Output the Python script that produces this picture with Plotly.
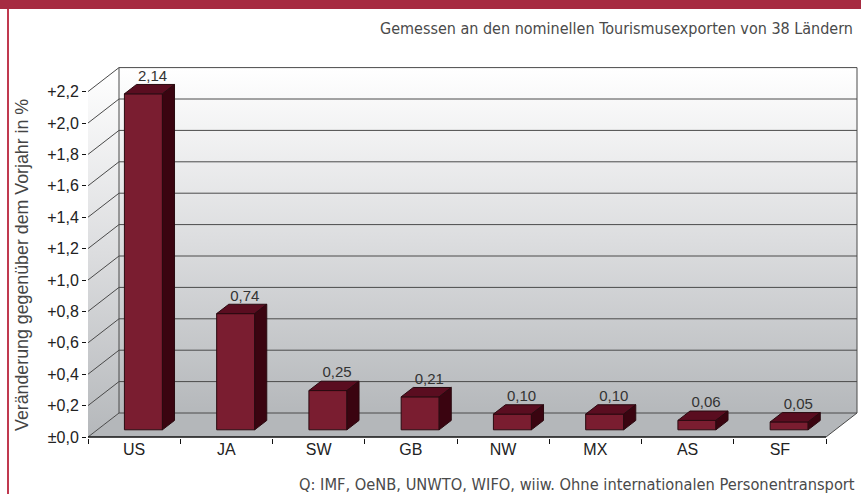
import plotly.graph_objects as go

# ---------------- data ----------------
categories = ["US", "JA", "SW", "GB", "NW", "MX", "AS", "SF"]
values = [2.14, 0.74, 0.25, 0.21, 0.10, 0.10, 0.06, 0.05]
value_labels = ["2,14", "0,74", "0,25", "0,21", "0,10", "0,10", "0,06", "0,05"]
y_ticks = [0.0, 0.2, 0.4, 0.6, 0.8, 1.0, 1.2, 1.4, 1.6, 1.8, 2.0, 2.2]
y_tick_labels = ["±0,0", "+0,2", "+0,4", "+0,6", "+0,8", "+1,0", "+1,2",
                 "+1,4", "+1,6", "+1,8", "+2,0", "+2,2"]
subtitle = "Gemessen an den nominellen Tourismusexporten von 38 Ländern"
source = "Q: IMF, OeNB, UNWTO, WIFO, wiiw. Ohne internationalen Personentransport"
y_title = "Veränderung gegenüber dem Vorjahr in %"

# ---------------- geometry ----------------
W, H = 861, 494
L, R, T, B = 87, 1, 64, 56
PW, PH = W - L - R, H - T - B
CAT_PX, VAL_PX = 92.25, 157.0
x_min = -0.5 - 1 / CAT_PX
x_max = x_min + PW / CAT_PX
y_min = -1 / VAL_PX
y_max = y_min + PH / VAL_PX
DX, DY = 31 / CAT_PX, 24 / VAL_PX      # depth of the 3D box
n = len(categories)
xa, xb = -0.5, n - 0.5                  # front floor edges
YTOP = max(y_ticks)

F0, FD, HW = 0.30, 0.39, 0.206         # bar depth start, bar depth, half width

def px_x(px):
    return (px - L) / PW

def px_y(py):
    return (H - B - py) / PH

GRAD = [[0, "#b5b8bb"], [0.5, "#dcdddf"], [1, "#ffffff"]]
LINE = "#4a4a4a"
NARROW = "DejaVu Sans Condensed, Liberation Sans Narrow, Arial Narrow, sans-serif"
ARIAL = "Liberation Sans, Arial, sans-serif"

fig = go.Figure()

# back wall
fig.add_trace(go.Scatter(
    x=[xa + DX, xb + DX, xb + DX, xa + DX, xa + DX],
    y=[DY, DY, YTOP + DY, YTOP + DY, DY],
    mode="lines", line=dict(width=0), fill="toself",
    fillgradient=dict(type="vertical", colorscale=GRAD, start=DY, stop=YTOP + DY),
    hoverinfo="skip", showlegend=False))
# left wall
fig.add_trace(go.Scatter(
    x=[xa, xa + DX, xa + DX, xa, xa],
    y=[0, DY, YTOP + DY, YTOP, 0],
    mode="lines", line=dict(width=0), fill="toself",
    fillgradient=dict(type="vertical", colorscale=GRAD, start=0, stop=YTOP + DY),
    hoverinfo="skip", showlegend=False))
# floor
fig.add_trace(go.Scatter(
    x=[xa, xb, xb + DX, xa + DX, xa],
    y=[0, 0, DY, DY, 0],
    mode="lines", line=dict(width=0), fill="toself", fillcolor="#b4b7ba",
    hoverinfo="skip", showlegend=False))

# grid lines on back wall and left wall
gx, gy = [], []
for v in y_ticks:
    gx += [xa, xa + DX, xb + DX, None]
    gy += [v, v + DY, v + DY, None]
gx += [xa + DX, xa + DX, None, xb + DX, xb + DX, None, xb, xb + DX, None]
gy += [DY, YTOP + DY, None, DY, YTOP + DY, None, 0, DY, None]
fig.add_trace(go.Scatter(x=gx, y=gy, mode="lines", line=dict(color=LINE, width=1),
                         hoverinfo="skip", showlegend=False))
# front floor edge
fig.add_trace(go.Scatter(x=[xa, xb], y=[0, 0], mode="lines",
                         line=dict(color="#111111", width=1.5),
                         hoverinfo="skip", showlegend=False))

# bars
fx, fy, tx, ty, sx, sy = [], [], [], [], [], []
for i, v in enumerate(values):
    b = F0 * DY
    xl = i - HW + F0 * DX
    xr = i + HW + F0 * DX
    ddx, ddy = FD * DX, FD * DY
    fx += [xl, xr, xr, xl, xl, None]
    fy += [b, b, b + v, b + v, b, None]
    tx += [xl, xr, xr + ddx, xl + ddx, xl, None]
    ty += [b + v, b + v, b + v + ddy, b + v + ddy, b + v, None]
    sx += [xr, xr + ddx, xr + ddx, xr, xr, None]
    sy += [b, b + ddy, b + v + ddy, b + v, b, None]
for xs, ys, col in [(fx, fy, "#7a1d30"), (tx, ty, "#5a0d20"), (sx, sy, "#3a0410")]:
    fig.add_trace(go.Scatter(x=xs, y=ys, mode="lines", fill="toself", fillcolor=col,
                             line=dict(color="#2a0a10", width=1),
                             hoverinfo="skip", showlegend=False))

# value labels
fig.add_trace(go.Scatter(
    x=[i + F0 * DX + 0.75 * FD * DX for i in range(n)],
    y=[v + (F0 + FD) * DY for v in values],
    mode="text", text=value_labels, textposition="top center",
    textfont=dict(family=ARIAL, size=15, color="#333333"),
    cliponaxis=False, hoverinfo="skip", showlegend=False))

fig.update_layout(
    width=W, height=H,
    margin=dict(l=L, r=R, t=T, b=B),
    paper_bgcolor="white", plot_bgcolor="rgba(0,0,0,0)",
    xaxis=dict(range=[x_min, x_max], tickvals=list(range(n)), ticktext=categories,
               showgrid=False, zeroline=False, showline=False, ticks="",
               tickfont=dict(family=ARIAL, size=16, color="#222222"),
               minor=dict(tickvals=[k - 0.5 for k in range(n + 1)], ticks="outside",
                          ticklen=5, tickcolor="#111111", tickwidth=1, showgrid=False)),
    yaxis=dict(range=[y_min, y_max], tickvals=y_ticks, ticktext=y_tick_labels,
               showgrid=False, zeroline=False, showline=False, ticks="outside",
               ticklen=4, tickcolor="#111111",
               tickfont=dict(family=ARIAL, size=16, color="#222222")),
    shapes=[
        dict(type="rect", xref="paper", yref="paper", x0=px_x(0), x1=px_x(W),
             y0=px_y(9), y1=px_y(0), fillcolor="#a62b41", line=dict(width=0)),
        dict(type="line", xref="paper", yref="paper", x0=px_x(8), x1=px_x(8),
             y0=px_y(9), y1=px_y(H), line=dict(color="#c0394f", width=2)),
    ],
    annotations=[
        dict(text=subtitle, xref="paper", yref="paper", x=px_x(855), y=px_y(28),
             xanchor="right", yanchor="middle", showarrow=False,
             font=dict(family=NARROW, size=16, color="#4a4a4a")),
        dict(text=source, xref="paper", yref="paper", x=px_x(857), y=px_y(484),
             xanchor="right", yanchor="middle", showarrow=False,
             font=dict(family=NARROW, size=16.3, color="#4a4a4a")),
        dict(text=y_title, xref="paper", yref="paper", x=px_x(22), y=px_y(265),
             xanchor="center", yanchor="middle", textangle=-90, showarrow=False,
             font=dict(family=ARIAL, size=17.8, color="#444444")),
    ],
)

fig.write_html(
    "out.html",
    config={"displayModeBar": False},
    post_script="document.body.style.margin='0';document.body.style.padding='0';",
)
